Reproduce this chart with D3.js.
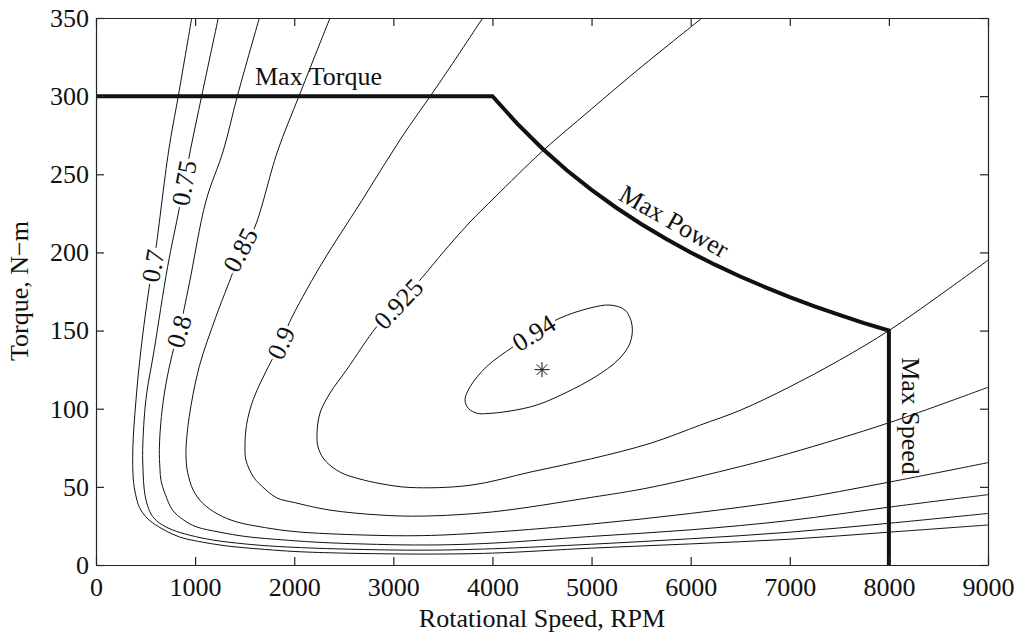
<!DOCTYPE html>
<html>
<head>
<meta charset="utf-8">
<script src="https://cdn.jsdelivr.net/npm/d3@7"></script>
<style>
body { margin: 0; background: #fff; }
text { font-family: "Liberation Serif", "Times New Roman", serif; fill: #111; }
</style>
</head>
<body>
<svg width="1019" height="635"></svg>
<script>
// efficiency contour levels and the lines, as [rpm, torque]
var levels = [0.7, 0.75, 0.8, 0.85, 0.9, 0.925, 0.94];

var eff070 = [[966,350],[830,300],[733,265],[598,200],[538,178],[454,138],[404,106],[372,75],[376,55],[400,45],[437,37],[500,31],[572,27],[700,22],[840,18],[1000,15.5],[1345,12],[1700,10],[2018,8.6],[2500,7.6],[3330,7.0],[4000,7.6],[5000,10.8],[6000,13.5],[7000,16.5],[8000,21],[9000,25.6]];
var eff075 = [[1234,350],[1066,300],[951,265],[840,228],[723,191],[588,138],[504,106],[471,74],[475,60],[487,48],[520,38],[572,31],[660,26],[774,22.4],[950,19],[1177,16],[1500,13.5],[1849,11.8],[2500,10.2],[3330,9.5],[4000,10.4],[5000,13.3],[6000,16.8],[7000,21],[8000,26.7],[9000,33]];
var eff080 = [[1648,350],[1426,300],[1284,265],[1110,233],[941,180],[840,150],[790,140],[706,116],[660,95],[639,74],[645,62],[656,54],[700,45],[774,35],[880,29],[1009,24.5],[1250,21],[1514,18.2],[1900,16],[2354,14.2],[3330,12.8],[4000,14],[5000,18.3],[6000,22.5],[7000,28.5],[8000,37],[9000,45]];
var eff085 = [[2361,350],[2048,300],[1833,265],[1587,214],[1453,201],[1379,187],[1211,159],[1042,127],[941,95],[908,74],[912,65],[925,59],[980,48],[1077,39.5],[1230,32.5],[1413,27.7],[1700,24],[2018,21.3],[2691,19.2],[3300,18.8],[4000,21],[5000,26.2],[6000,33],[7000,41.5],[8000,53],[9000,65.5]];
var eff090 = [[3902,350],[3471,309],[3067,272],[2681,233],[2260,191],[1950,155],[1867,142],[1756,129],[1587,106],[1520,90],[1503,76],[1513,67],[1587,56.5],[1648,52],[1823,43],[2000,40],[2354,35.2],[2858,32],[3300,31.3],[4000,34],[5000,43.3],[5600,49.7],[6500,63],[7000,71.5],[8000,91],[9000,113.7]];
var eff0925 = [[6115,350],[5489,318],[4985,291],[4497,264.4],[4026,235.4],[3774,219.5],[3522,201.5],[3269,182.3],[3050,167],[2832,152.5],[2530,125],[2361,110],[2260,97.2],[2230,84.5],[2240,75.6],[2290,68.6],[2371,63.3],[2492,58.5],[2664,55],[2866,52.1],[3168,49.6],[3774,51],[4400,59.7],[5000,68],[5600,78],[6100,89.6],[6500,99],[7000,114],[7500,131],[8000,150],[8500,172],[9000,195]];
var eff094 = [[3723,105.6],[3760,100],[3850,97],[3945,96.9],[4177,98.5],[4450,102.4],[4732,110],[5035,120.3],[5267,131.2],[5388,142],[5408,153.6],[5338,163.1],[5186,166.3],[4984,164.4],[4682,158],[4430,149],[4210,139.7],[3942,127],[3774,114]];

var contourLines = [eff070, eff075, eff080, eff085, eff090, eff0925, eff094];
// where each inline label sits on its line
var labelSpots = [[605,191],[915,244],[858,149],[1480,201],[1867,142],[3050,167],[4429,147]];

// torque envelope: max torque, max power, max speed
var envRpm =    [0,   4000, 4250,  4500,  4750,  5000, 5250,  5500,  5750,  6000, 6250, 6500,  6750,  7000,  7250,  7500, 7750,  8000, 8000];
var envTorque = [300, 300,  282.4, 266.7, 252.6, 240,  228.6, 218.2, 208.7, 200,  192,  184.6, 177.8, 171.4, 165.5, 160,  154.8, 150,  0];

var peakRpm = 4500, peakTorque = 125;

var xTicks = [0,1000,2000,3000,4000,5000,6000,7000,8000,9000];
var yTicks = [0,50,100,150,200,250,300,350];

var svg = d3.select("svg");

var x = d3.scaleLinear().domain([0, 9000]).range([96, 988]);
var y = d3.scaleLinear().domain([0, 350]).range([565, 18]);

svg.append("clipPath").attr("id", "plotclip")
	.append("rect")
	.attr("x", 96).attr("y", 18)
	.attr("width", 892).attr("height", 547);

var line = d3.line()
	.x(function(d) { return x(d[0]); })
	.y(function(d) { return y(d[1]); })
	.curve(d3.curveCatmullRom.alpha(0.5));

var loop = d3.line()
	.x(function(d) { return x(d[0]); })
	.y(function(d) { return y(d[1]); })
	.curve(d3.curveCatmullRomClosed.alpha(0.5));

var g = svg.append("g").attr("clip-path", "url(#plotclip)");
var labels = svg.append("g");

contourLines.forEach(function(pts, i) {
	var p = g.append("path")
		.datum(pts)
		.attr("d", levels[i] == 0.94 ? loop : line)
		.attr("fill", "none")
		.attr("stroke", "#111")
		.attr("stroke-width", 1);

	// put the label on the line, turned along it
	var node = p.node();
	var total = node.getTotalLength();
	var tx = x(labelSpots[i][0]), ty = y(labelSpots[i][1]);
	var best = 0, bd = Infinity;
	for (var L = 0; L <= total; L += 0.5) {
		var q = node.getPointAtLength(L);
		var d2 = (q.x - tx) * (q.x - tx) + (q.y - ty) * (q.y - ty);
		if (d2 < bd) { bd = d2; best = L; }
	}
	var a = node.getPointAtLength(Math.max(0, best - 10));
	var b = node.getPointAtLength(Math.min(total, best + 10));
	var ang = Math.atan2(b.y - a.y, b.x - a.x) * 180 / Math.PI;
	if (ang > 90) ang -= 180;
	if (ang < -90) ang += 180;
	var c = node.getPointAtLength(best);

	var lab = labels.append("g")
		.attr("transform", "translate(" + c.x + "," + c.y + ") rotate(" + ang + ")");
	var rect = lab.append("rect").attr("fill", "#fff");
	var t = lab.append("text")
		.attr("text-anchor", "middle")
		.attr("dy", "0.34em")
		.attr("font-size", 26)
		.text(levels[i]);
	var w = t.node().getComputedTextLength();
	rect.attr("x", -w / 2 - 2).attr("y", -4).attr("width", w + 4).attr("height", 8);
});

// envelope
var env = envRpm.map(function(r, i) { return [r, envTorque[i]]; });
g.append("path")
	.datum(env)
	.attr("d", d3.line().x(function(d) { return x(d[0]); }).y(function(d) { return y(d[1]); }))
	.attr("fill", "none")
	.attr("stroke", "#111")
	.attr("stroke-width", 4)
	.attr("stroke-linejoin", "miter");

// peak efficiency star
svg.append("path")
	.attr("transform", "translate(" + x(peakRpm) + "," + y(peakTorque) + ")")
	.attr("d", "M-7.5,0H7.5M0,-7.5V7.5M-5.3,-5.3L5.3,5.3M-5.3,5.3L5.3,-5.3")
	.attr("stroke", "#111")
	.attr("stroke-width", 1);

// envelope labels
svg.append("text")
	.attr("x", x(1604)).attr("y", y(307))
	.attr("font-size", 26)
	.text("Max Torque");

svg.append("text")
	.attr("transform", "translate(" + x(5260) + "," + y(234) + ") rotate(29.5)")
	.attr("font-size", 26)
	.text("Max Power");

svg.append("text")
	.attr("transform", "translate(" + x(8130) + "," + y(133) + ") rotate(90)")
	.attr("font-size", 26)
	.text("Max Speed");

// axes, ticks inside on all four sides
function styleAxis(sel) {
	sel.select(".domain").attr("stroke", "#222").attr("stroke-width", 1.2);
	sel.selectAll(".tick line").attr("stroke", "#222").attr("stroke-width", 1.2);
	sel.selectAll("text").attr("font-size", 26).attr("fill", "#111")
		.style("font-family", "'Liberation Serif', 'Times New Roman', serif");
}

svg.append("g")
	.attr("transform", "translate(0,565)")
	.call(d3.axisBottom(x).tickValues(xTicks).tickFormat(d3.format("d")).tickSizeInner(-8).tickSizeOuter(0).tickPadding(13))
	.call(styleAxis);

svg.append("g")
	.attr("transform", "translate(0,18)")
	.call(d3.axisTop(x).tickValues(xTicks).tickFormat("").tickSizeInner(-8).tickSizeOuter(0))
	.call(styleAxis);

svg.append("g")
	.attr("transform", "translate(96,0)")
	.call(d3.axisLeft(y).tickValues(yTicks).tickFormat(d3.format("d")).tickSizeInner(-8).tickSizeOuter(0).tickPadding(7))
	.call(styleAxis);

svg.append("g")
	.attr("transform", "translate(988,0)")
	.call(d3.axisRight(y).tickValues(yTicks).tickFormat("").tickSizeInner(-8).tickSizeOuter(0))
	.call(styleAxis);

// axis titles
svg.append("text")
	.attr("x", 542).attr("y", 627)
	.attr("text-anchor", "middle")
	.attr("font-size", 26)
	.text("Rotational Speed, RPM");

svg.append("text")
	.attr("transform", "translate(28,291) rotate(-90)")
	.attr("text-anchor", "middle")
	.attr("font-size", 26)
	.text("Torque, N\u2212m");
</script>
</body>
</html>
